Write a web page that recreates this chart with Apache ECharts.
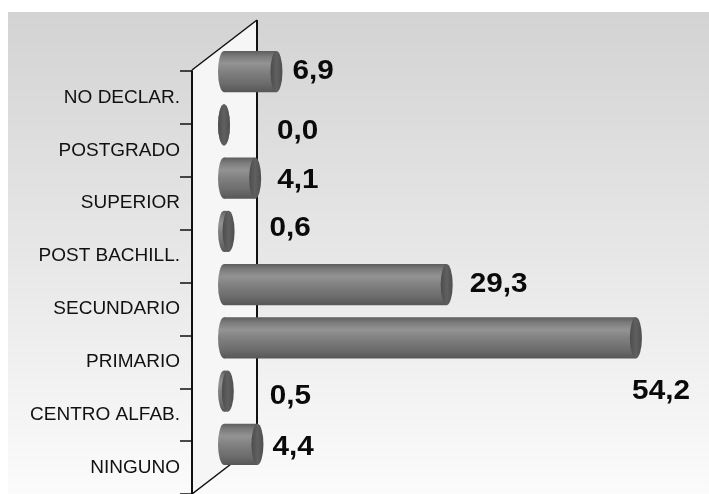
<!DOCTYPE html>
<html>
<head>
<meta charset="utf-8">
<script src="https://cdn.jsdelivr.net/npm/echarts@6/dist/echarts.min.js"></script>
<style>
  html, body { margin: 0; padding: 0; background: #ffffff; }
  #chart { width: 709px; height: 494px; }
</style>
</head>
<body>
<div id="chart"></div>
<script>
// Education level shares (%), listed from the bottom of the axis to the top
const categories = ['NINGUNO', 'CENTRO ALFAB.', 'PRIMARIO', 'SECUNDARIO', 'POST BACHILL.', 'SUPERIOR', 'POSTGRADO', 'NO DECLAR.'];
const shares = [4.4, 0.5, 54.2, 29.3, 0.6, 4.1, 0.0, 6.9];
const shareLabels = shares.map(v => v.toFixed(1).replace('.', ','));

// Layout of the pseudo-3D wall and the two grids
const FRONT_X = 192, FRONT_TOP = 70, FRONT_BOTTOM = 494;
const DEPTH_X = 65, DEPTH_Y = 50;
const BAND_SPAN = 426;           // height of the 8 category bands
const BAR_ZERO_X = 224, BAR_TOP = 45;
const X_MAX = 60, PX_PER_UNIT = 7.6;

// Where each value label sits relative to the end of its cylinder: [dx, dy, align]
const valueLabelNudge = {
  'NO DECLAR.':    [10, 0],
  'POSTGRADO':     [47, 7],
  'SUPERIOR':      [16, 2],
  'POST BACHILL.': [35, -3],
  'SECUNDARIO':    [17, 0],
  'PRIMARIO':      [48, 54, 'right'],
  'CENTRO ALFAB.': [36, 5],
  'NINGUNO':       [9, 3]
};

const chart = echarts.init(document.getElementById('chart'), null, { renderer: 'canvas' });

function renderCylinder(params, api) {
  const v = api.value(0);
  const c = api.value(1);
  const p0 = api.coord([0, c]);
  const p1 = api.coord([v, c]);
  const h = api.size([0, 1])[1] * 0.77;
  const cy = p0[1];
  const ry = h / 2, rx = 6;

  const bodyFill = new echarts.graphic.LinearGradient(0, 0, 0, 1, [
    { offset: 0, color: '#5e5e5e' },
    { offset: 0.12, color: '#7a7a7a' },
    { offset: 0.3, color: '#939393' },
    { offset: 0.5, color: '#818181' },
    { offset: 0.8, color: '#6b6b6b' },
    { offset: 1, color: '#575757' }
  ]);
  const capFill = new echarts.graphic.LinearGradient(0, 0, 1, 0, [
    { offset: 0, color: '#4c4c4c' },
    { offset: 0.5, color: '#606060' },
    { offset: 1, color: '#4e4e4e' }
  ]);

  const nudge = valueLabelNudge[categories[c]] || [10, 0];
  const alignRight = nudge[2] === 'right';

  return {
    type: 'group',
    children: [
      { type: 'circle', x: p0[0], y: cy, scaleX: rx / ry, shape: { cx: 0, cy: 0, r: ry }, style: { fill: bodyFill } },
      { type: 'rect', shape: { x: p0[0], y: cy - ry, width: Math.max(0, p1[0] - p0[0]), height: h }, style: { fill: bodyFill } },
      { type: 'circle', x: p1[0], y: cy, scaleX: rx / ry, shape: { cx: 0, cy: 0, r: ry }, style: { fill: capFill } },
      {
        type: 'text',
        x: p1[0] + rx + nudge[0],
        y: cy + nudge[1],
        scaleX: 1.1,
        style: {
          text: shareLabels[c],
          fontFamily: '"Liberation Sans", Arial, sans-serif',
          fontWeight: 'bold',
          fontSize: 27,
          fill: '#0a0a0a',
          align: alignRight ? 'right' : 'left',
          verticalAlign: 'middle'
        }
      }
    ]
  };
}

const bgGradient = new echarts.graphic.LinearGradient(0, 0, 0, 1, [
  { offset: 0, color: '#d3d3d3' },
  { offset: 1, color: '#fbfbfb' }
]);

const option = {
  backgroundColor: '#ffffff',
  animation: false,
  grid: [
    { left: FRONT_X, top: FRONT_TOP + 1, width: 10, height: BAND_SPAN },
    { left: BAR_ZERO_X, top: BAR_TOP, width: X_MAX * PX_PER_UNIT, height: BAND_SPAN }
  ],
  xAxis: [
    { gridIndex: 0, type: 'value', show: false },
    { gridIndex: 1, type: 'value', min: 0, max: X_MAX, show: false }
  ],
  yAxis: [
    {
      gridIndex: 0,
      type: 'category',
      data: categories,
      z: 3,
      axisLine: { show: true, onZero: false, lineStyle: { color: '#111111', width: 2 } },
      axisTick: { show: true, inside: false, length: 12, lineStyle: { color: '#111111', width: 1.5 } },
      axisLabel: {
        show: true,
        margin: 12,
        color: '#111111',
        fontFamily: '"Liberation Sans", Arial, sans-serif',
        fontSize: 19
      },
      splitLine: { show: false }
    },
    { gridIndex: 1, type: 'category', data: categories, show: false }
  ],
  graphic: [
    { type: 'rect', z: -20, silent: true, shape: { x: 8, y: 12, width: 701, height: 482 }, style: { fill: bgGradient } },
    {
      type: 'polygon', z: -10, silent: true,
      shape: { points: [[FRONT_X, FRONT_TOP], [FRONT_X + DEPTH_X, FRONT_TOP - DEPTH_Y], [FRONT_X + DEPTH_X, FRONT_BOTTOM - DEPTH_Y], [FRONT_X, FRONT_BOTTOM]] },
      style: { fill: '#f6f6f6' }
    },
    { type: 'line', z: -5, silent: true, shape: { x1: FRONT_X, y1: FRONT_TOP, x2: FRONT_X + DEPTH_X, y2: FRONT_TOP - DEPTH_Y }, style: { stroke: '#111111', lineWidth: 1.5 } },
    { type: 'line', z: -5, silent: true, shape: { x1: FRONT_X + DEPTH_X, y1: FRONT_TOP - DEPTH_Y, x2: FRONT_X + DEPTH_X, y2: FRONT_BOTTOM - DEPTH_Y }, style: { stroke: '#111111', lineWidth: 2 } },
    { type: 'line', z: -5, silent: true, shape: { x1: FRONT_X, y1: FRONT_BOTTOM, x2: FRONT_X + DEPTH_X, y2: FRONT_BOTTOM - DEPTH_Y }, style: { stroke: '#111111', lineWidth: 1.5 } }
  ],
  series: [
    {
      type: 'custom',
      xAxisIndex: 1,
      yAxisIndex: 1,
      renderItem: renderCylinder,
      encode: { x: 0, y: 1 },
      data: shares.map((v, i) => [v, i]),
      z: 5
    }
  ]
};

chart.setOption(option);
</script>
</body>
</html>
